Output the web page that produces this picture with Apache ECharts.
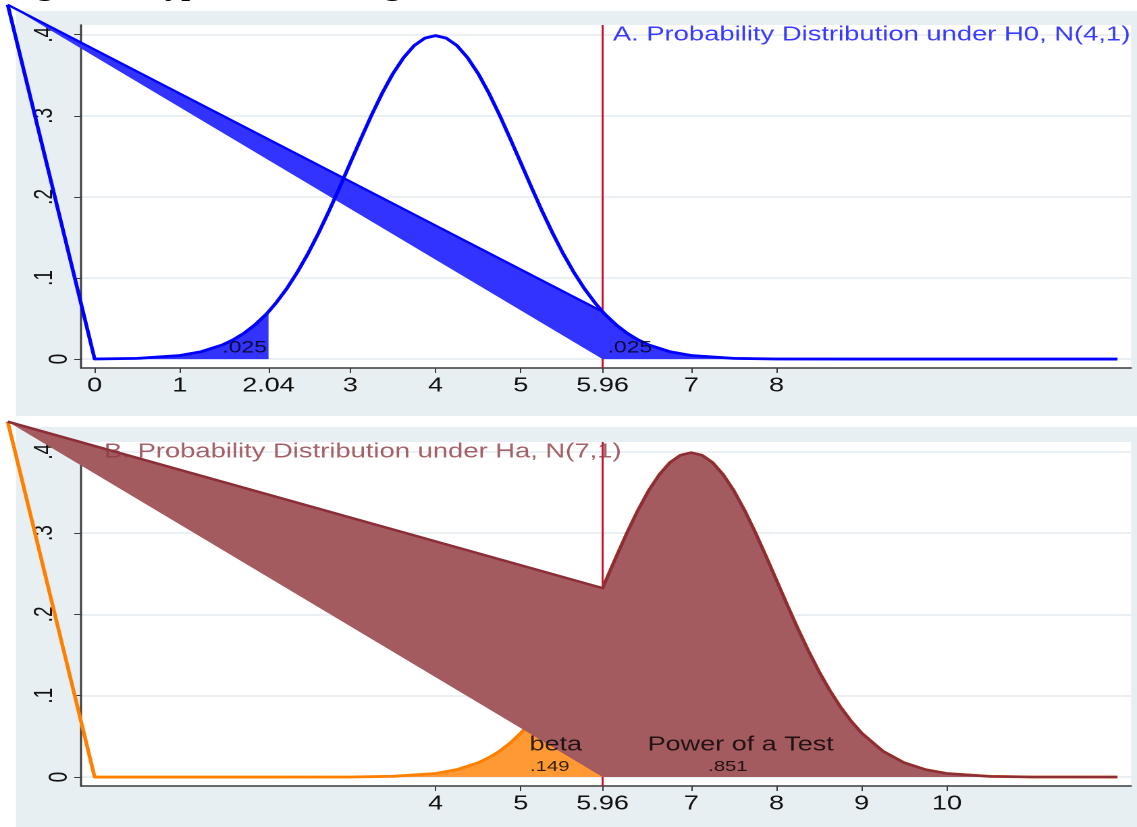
<!DOCTYPE html>
<html><head><meta charset="utf-8">
<script src="https://cdn.jsdelivr.net/npm/echarts@6/dist/echarts.min.js"></script>
<style>
html,body{margin:0;padding:0;background:#fff;overflow:hidden;width:1137px;height:827px}
#chart{width:842px;height:827px;transform:scaleX(1.35036);transform-origin:0 0}
</style>
</head><body><div id="chart"></div>
<script>
// ---------------- data ----------------
const xTicksTop = [0, 1, 2.04, 3, 4, 5, 5.96, 7, 8];
const xTicksBottom = [4, 5, 5.96, 7, 8, 9, 10];
const yTicks = [0, 0.1, 0.2, 0.3, 0.4];
const yTickLabels = ['0', '.1', '.2', '.3', '.4'];
const critLow = 2.04;
const critHigh = 5.96;
const strayPoint = [-1.02, 0.437];
// density under H0, N(4,1)
const h0X = [0, 0.5, 1, 1.25, 1.5, 1.625, 1.75, 1.875, 2, 2.04, 2.125, 2.25, 2.375, 2.5, 2.625, 2.75, 2.875, 3, 3.125, 3.25, 3.375, 3.5, 3.625, 3.75, 3.875, 4, 4.125, 4.25, 4.375, 4.5, 4.625, 4.75, 4.875, 5, 5.125, 5.25, 5.375, 5.5, 5.625, 5.75, 5.875, 5.96, 6, 6.125, 6.25, 6.375, 6.5, 6.75, 7, 7.5, 8, 9, 10, 11, 12];
const h0Y = [0.0001, 0.0009, 0.0044, 0.0091, 0.0175, 0.0238, 0.0317, 0.0417, 0.0540, 0.0584, 0.0688, 0.0863, 0.1066, 0.1295, 0.1550, 0.1826, 0.2119, 0.2420, 0.2720, 0.3011, 0.3281, 0.3521, 0.3718, 0.3867, 0.3958, 0.3989, 0.3958, 0.3867, 0.3718, 0.3521, 0.3281, 0.3011, 0.2720, 0.2420, 0.2119, 0.1826, 0.1550, 0.1295, 0.1066, 0.0863, 0.0688, 0.0584, 0.0540, 0.0417, 0.0317, 0.0238, 0.0175, 0.0091, 0.0044, 0.0009, 0.0001, 0, 0, 0, 0];
// density under Ha, N(7,1)
const haX = [0, 1, 2, 3, 3.5, 4, 4.25, 4.5, 4.625, 4.75, 4.875, 5, 5.125, 5.25, 5.375, 5.5, 5.625, 5.75, 5.875, 5.96, 6, 6.125, 6.25, 6.375, 6.5, 6.625, 6.75, 6.875, 7, 7.125, 7.25, 7.375, 7.5, 7.625, 7.75, 7.875, 8, 8.125, 8.25, 8.375, 8.5, 8.625, 8.75, 8.875, 9, 9.25, 9.5, 9.75, 10, 10.5, 11, 12];
const haY = [0, 0, 0, 0.0001, 0.0009, 0.0044, 0.0091, 0.0175, 0.0238, 0.0317, 0.0417, 0.0540, 0.0688, 0.0863, 0.1066, 0.1295, 0.1550, 0.1826, 0.2119, 0.2323, 0.2420, 0.2720, 0.3011, 0.3281, 0.3521, 0.3718, 0.3867, 0.3958, 0.3989, 0.3958, 0.3867, 0.3718, 0.3521, 0.3281, 0.3011, 0.2720, 0.2420, 0.2119, 0.1826, 0.1550, 0.1295, 0.1066, 0.0863, 0.0688, 0.0540, 0.0317, 0.0175, 0.0091, 0.0044, 0.0009, 0.0001, 0];
const titleMain = 'Figure 1. Hypothesis Testing';
const titleA = 'A. Probability Distribution under H0, N(4,1)';
const titleB = 'B. Probability Distribution under Ha, N(7,1)';
const alphaText = '.025';
const betaText = 'beta';
const betaValue = '.149';
const powerText = 'Power of a Test';
const powerValue = '.851';

// ---------------- layout helpers ----------------
const W = 842;
const S = 1137 / W;
const u = px => px / S;
const FONT = '"Liberation Sans", Arial, sans-serif';
const X_MIN = -0.16, X_MAX = 12.16, Y_MIN = -0.011, Y_MAX = 0.412;

const h0 = h0X.map((x, i) => [x, h0Y[i]]);
const ha = haX.map((x, i) => [x, haY[i]]);
const h0Left = h0.filter(p => p[0] <= critLow);
const h0Right = h0.filter(p => p[0] >= critHigh);
const haLeft = ha.filter(p => p[0] <= critHigh);
const haRight = ha.filter(p => p[0] >= critHigh);

const leftTailPoly = [...h0Left, [critLow, 0], [0, 0]];
const rightTailPoly = [strayPoint, ...h0Right, [critHigh, 0]];
const rightTailEdge = [strayPoint, ...h0Right];
const betaPoly = [...haLeft, [critHigh, 0], [0, 0]];
const powerPoly = [strayPoint, ...haRight, [critHigh, 0]];
const powerEdge = [strayPoint, ...haRight];
const h0Line = [strayPoint, ...h0];
const haLine = [strayPoint, ...ha];

function shapeRenderer(fillPts, edgePts, fill, stroke, lw) {
  return function (params, api) {
    if (params.dataIndex !== 0) return null;
    const children = [];
    if (fillPts) {
      children.push({
        type: 'polygon',
        shape: { points: fillPts.map(p => api.coord(p)) },
        style: { fill: fill, stroke: null }
      });
    }
    if (edgePts) {
      children.push({
        type: 'polyline',
        shape: { points: edgePts.map(p => api.coord(p)) },
        style: { fill: null, stroke: stroke, lineWidth: lw, lineJoin: 'round', lineCap: 'butt' }
      });
    }
    return { type: 'group', children: children };
  };
}
function shapeSeries(grid, z, fillPts, edgePts, fill, stroke, lw) {
  return {
    type: 'custom', xAxisIndex: grid, yAxisIndex: grid, z: z, silent: true, clip: false,
    data: [(fillPts || edgePts)[0]],
    renderItem: shapeRenderer(fillPts, edgePts, fill, stroke, lw)
  };
}

function xAxisOpt(grid, ticks) {
  return {
    type: 'value', gridIndex: grid, min: X_MIN, max: X_MAX,
    axisLine: { show: true, onZero: false, lineStyle: { color: '#3a3a3a', width: 1.5 } },
    axisTick: { show: true, length: 5, customValues: ticks, lineStyle: { color: '#3a3a3a', width: 1 } },
    axisLabel: { customValues: ticks, margin: 8, fontSize: 20, fontFamily: FONT, color: '#111',
      formatter: v => String(v) },
    splitLine: { show: false }
  };
}
function yAxisOpt(grid) {
  return {
    type: 'value', gridIndex: grid, min: Y_MIN, max: Y_MAX,
    axisLine: { show: true, onZero: false, lineStyle: { color: '#3a3a3a', width: 1.5 } },
    axisTick: { show: true, length: 5, customValues: yTicks, lineStyle: { color: '#3a3a3a', width: 1 } },
    axisLabel: { customValues: yTicks, rotate: 90, margin: 6, fontSize: 19, fontFamily: FONT, color: '#111',
      formatter: v => {
        const t = yTickLabels[yTicks.indexOf(v)];
        return v === 0 ? '{z|' + t + '}' : '{d|' + t + '}';
      },
      rich: {
        z: { fontSize: 19, fontFamily: FONT, color: '#111' },
        d: { fontSize: 19, fontFamily: FONT, color: '#111', padding: [0, 0, 11, 0] }
      }
    },
    splitLine: { show: true, lineStyle: { color: '#e3ecef', width: 1.5 } }
  };
}

const noteLabel = (size, color, pos) => ({
  show: true, position: pos || 'inside', distance: 0, formatter: '{b}',
  fontSize: size, fontFamily: FONT, color: color || '#000'
});

const option = {
  animation: false,
  backgroundColor: '#ffffff',
  title: {
    text: titleMain, left: u(8), top: -22, padding: 0,
    textStyle: { fontFamily: '"Liberation Serif", serif', fontWeight: 'bold', fontSize: 24, color: '#000' }
  },
  graphic: [
    { type: 'rect', z: -10, shape: { x: u(16), y: 11, width: W - u(16), height: 405 }, style: { fill: '#e8eff2' } },
    { type: 'rect', z: -10, shape: { x: u(16), y: 427, width: W - u(16), height: 400 }, style: { fill: '#e8eff2' } }
  ],
  grid: [
    { left: u(81), right: W - u(1131), top: 25, height: 343, show: true, backgroundColor: '#ffffff', borderWidth: 0 },
    { left: u(81), right: W - u(1131), top: 442, height: 344, show: true, backgroundColor: '#ffffff', borderWidth: 0 }
  ],
  xAxis: [xAxisOpt(0, xTicksTop), xAxisOpt(1, xTicksBottom)],
  yAxis: [yAxisOpt(0), yAxisOpt(1)],
  series: [
    // ---------- panel A ----------
    { type: 'line', xAxisIndex: 0, yAxisIndex: 0, z: 1, symbol: 'none', silent: true,
      data: [[critHigh, Y_MIN], [critHigh, Y_MAX]], lineStyle: { color: '#c8102e', width: 1.5 } },
    shapeSeries(0, 2, leftTailPoly, null, '#3333ff'),
    shapeSeries(0, 2, rightTailPoly, rightTailEdge, '#3333ff', '#0000ff', 2.2),
    shapeSeries(0, 3, null, h0Line, null, '#0000ff', 2.8),
    { type: 'scatter', xAxisIndex: 0, yAxisIndex: 0, z: 6, symbolSize: 0, silent: true,
      data: [{ name: alphaText, value: [1.76, 0.0136] }, { name: alphaText, value: [6.28, 0.0136] }],
      label: noteLabel(17) },
    { type: 'scatter', xAxisIndex: 0, yAxisIndex: 0, z: 6, symbolSize: 0, silent: true,
      data: [{ name: titleA, value: [6.08, 0.400] }],
      label: noteLabel(20.3, '#0a0aff', 'right') },
    // ---------- panel B ----------
    shapeSeries(1, 2, betaPoly, null, '#ff9933'),
    shapeSeries(1, 3, null, haLine, null, '#ff8000', 2.8),
    { type: 'line', xAxisIndex: 1, yAxisIndex: 1, z: 1, symbol: 'none', silent: true,
      data: [[critHigh, Y_MIN], [critHigh, Y_MAX]], lineStyle: { color: '#c8102e', width: 1.5 } },
    shapeSeries(1, 4, powerPoly, powerEdge, '#a45b60', '#8c2d37', 2.5),
    { type: 'scatter', xAxisIndex: 1, yAxisIndex: 1, z: 6, symbolSize: 0, silent: true,
      data: [{ name: betaText, value: [5.41, 0.0394] }, { name: powerText, value: [7.58, 0.0394] }],
      label: noteLabel(20) },
    { type: 'scatter', xAxisIndex: 1, yAxisIndex: 1, z: 6, symbolSize: 0, silent: true,
      data: [{ name: betaValue, value: [5.34, 0.0123] }, { name: powerValue, value: [7.43, 0.0123] }],
      label: noteLabel(15) },
    { type: 'scatter', xAxisIndex: 1, yAxisIndex: 1, z: 6, symbolSize: 0, silent: true,
      data: [{ name: titleB, value: [0.11, 0.3997] }],
      label: noteLabel(20.3, '#8f3a44', 'right') }
  ]
};

const chart = echarts.init(document.getElementById('chart'), null, { renderer: 'canvas', devicePixelRatio: 2 });
chart.setOption(option);
</script>
</body></html>
